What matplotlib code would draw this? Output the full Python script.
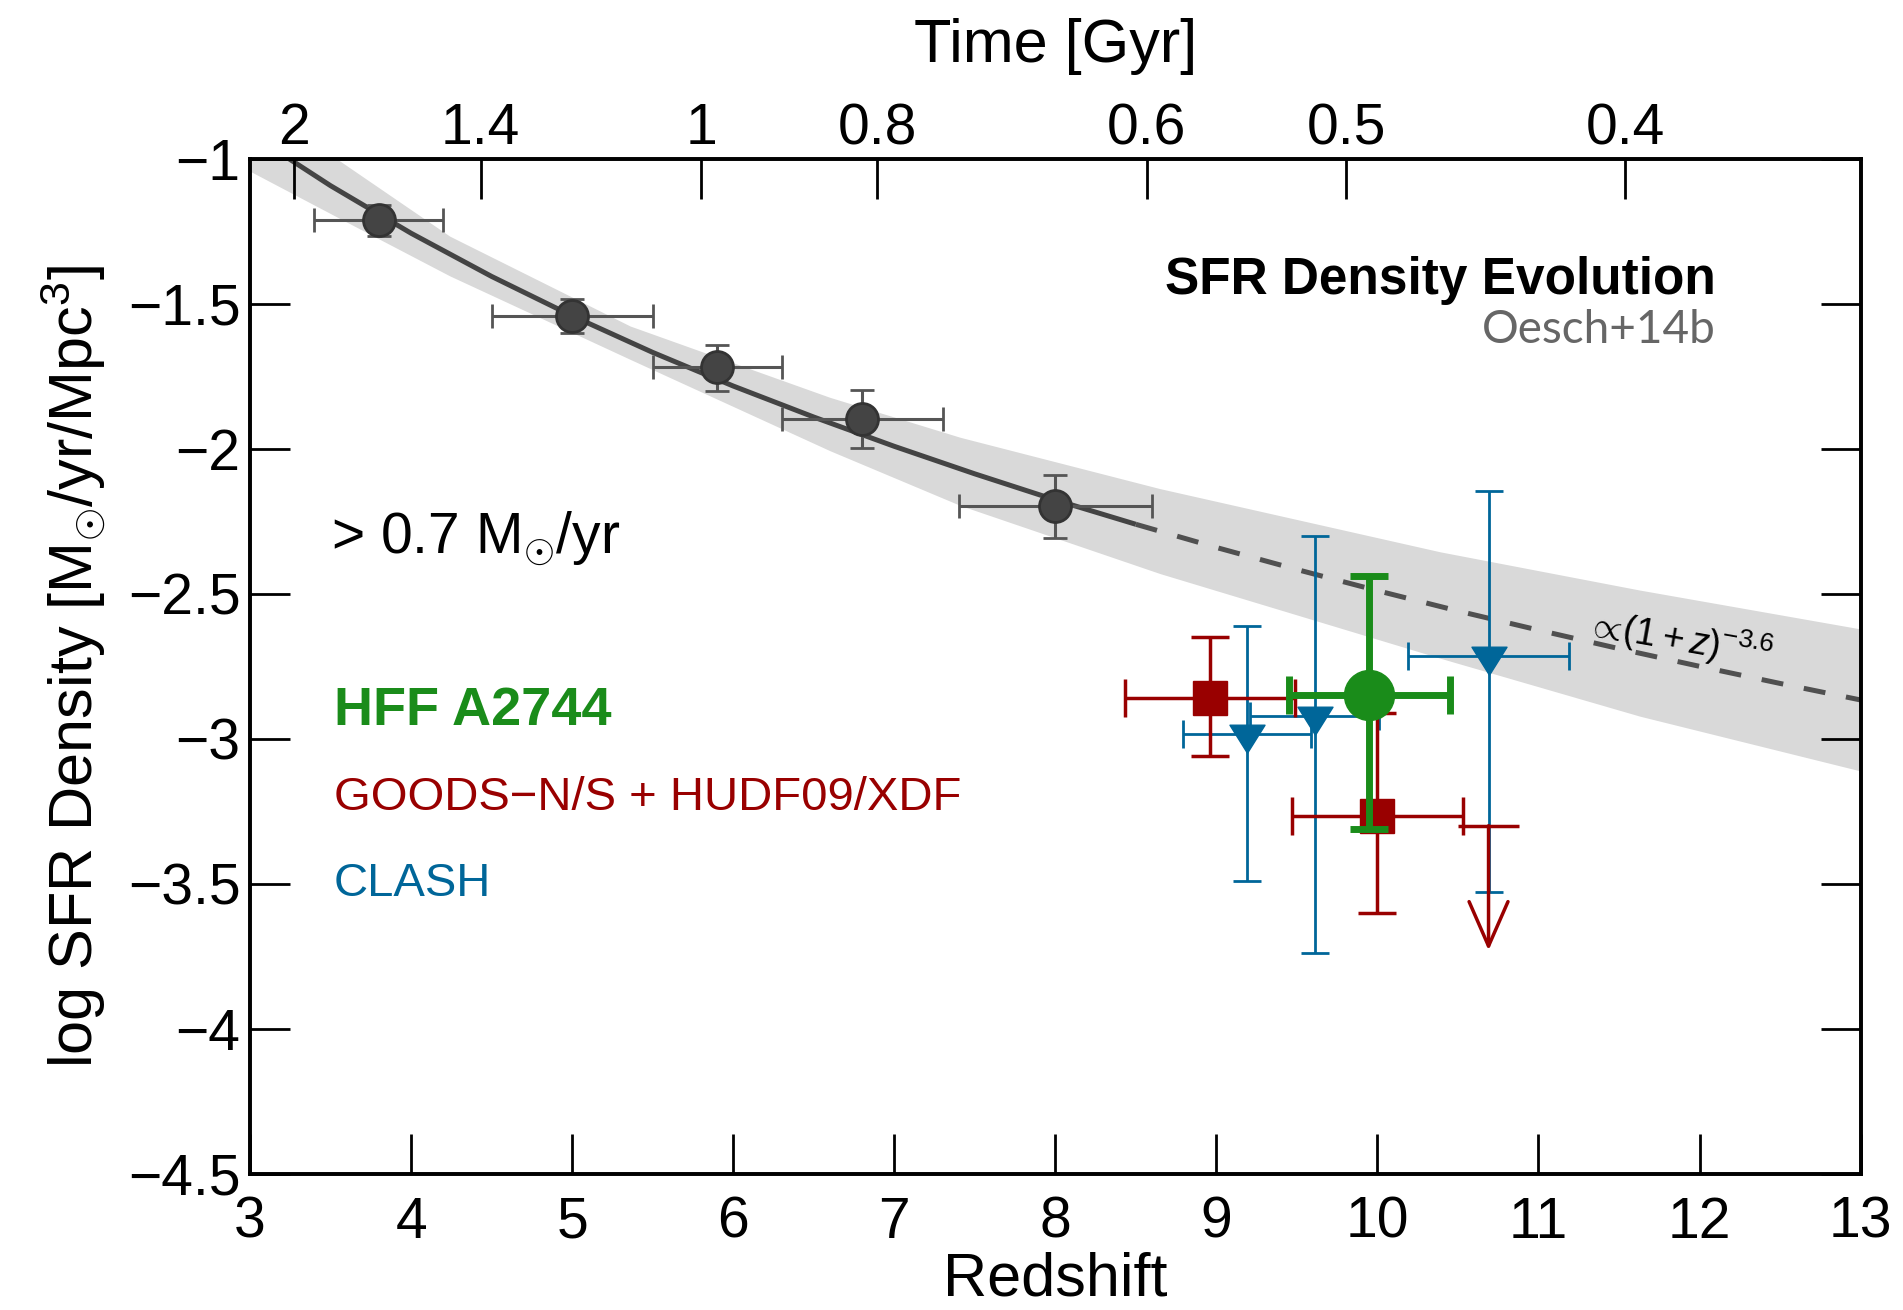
import numpy as np
import matplotlib
matplotlib.use('Agg')
import matplotlib.pyplot as plt
from matplotlib.path import Path

# ---------- fonts ----------
plt.rcParams['font.family'] = ['Liberation Sans', 'DejaVu Sans']
plt.rcParams['mathtext.fontset'] = 'custom'
plt.rcParams['mathtext.rm'] = 'Liberation Sans'
plt.rcParams['mathtext.it'] = 'Liberation Sans:italic'
plt.rcParams['mathtext.bf'] = 'Liberation Sans:bold'

# ---------- data ----------
# Oesch+14b lower-z measurements
z_low = [3.80, 5.00, 5.90, 6.80, 8.00]
sfrd_low = [-1.212, -1.542, -1.716, -1.897, -2.197]
sfrd_low_up = [0.055, 0.058, 0.074, 0.100, 0.108]
sfrd_low_dn = [0.055, 0.058, 0.084, 0.100, 0.109]
z_low_err = [0.40, 0.50, 0.40, 0.50, 0.60]

# fit curve (1+z)^-3.6 : solid where constrained, dashed extrapolation
z_fit_solid = [3.2, 3.5, 4.0, 4.5, 5.0, 5.5, 6.0, 6.5, 7.0, 7.5, 8.0, 8.5]
sfrd_fit_solid = [-0.984, -1.092, -1.256, -1.405, -1.541, -1.667, -1.783,
                  -1.890, -1.991, -2.086, -2.176, -2.260]
z_fit_dash = [8.5, 9.0, 9.5, 10.0, 10.5, 11.0, 11.5, 12.0, 12.5, 13.0]
sfrd_fit_dash = [-2.260, -2.340, -2.416, -2.489, -2.559, -2.625, -2.689,
                 -2.750, -2.809, -2.866]

# uncertainty band
z_band = [3.0, 3.54, 4.24, 5.36, 6.60, 7.41, 8.65, 10.39, 11.63, 13.0]
band_lo = [-1.042, -1.20, -1.403, -1.691, -2.006, -2.195, -2.430, -2.722, -2.922, -3.111]
band_hi = [-0.80, -1.00, -1.266, -1.576, -1.822, -1.960, -2.137, -2.355, -2.487, -2.621]

# HFF A2744
z_hff = [9.95]
sfrd_hff = [-2.85]
hff_up, hff_dn = [0.41], [0.46]
hff_zerr = [0.50]

# GOODS-N/S + HUDF09/XDF
z_goods = [8.96, 10.00]
sfrd_goods = [-2.86, -3.265]
goods_up = [0.21, 0.355]
goods_dn = [0.20, 0.335]
goods_zerr = [0.53, 0.53]
z_goods_lim = 10.69
sfrd_goods_lim = -3.30
goods_lim_tip = -3.73
goods_lim_zerr = 0.19

# CLASH
z_clash = [9.19, 9.61, 10.69]
sfrd_clash = [-2.985, -2.92, -2.716]
clash_up = [0.375, 0.62, 0.57]
clash_dn = [0.505, 0.82, 0.814]
clash_zerr = [0.40, 0.40, 0.50]

y_ticks = [-1, -1.5, -2, -2.5, -3, -3.5, -4, -4.5]
x_ticks = [3, 4, 5, 6, 7, 8, 9, 10, 11, 12, 13]
time_ticks = [2, 1.4, 1, 0.8, 0.6, 0.5, 0.4]

# colours
c_black = '#444444'
c_green = '#1a8c1a'
c_red = '#990000'
c_blue = '#006699'


def z_of_age(t, h0=67.0, om=0.3):
    """Redshift at cosmic age t [Gyr] in flat LCDM"""
    ol = 1.0 - om
    th = 977.8 / h0
    x = np.sqrt(om / ol) * np.sinh(1.5 * np.sqrt(ol) * np.asarray(t) / th)
    return x ** (-2.0 / 3.0) - 1.0


fig = plt.figure(figsize=(19.03, 13.10), dpi=100)
ax = fig.add_axes([0.1314, 0.1041, 0.8463, 0.7745])

ax.fill_between(z_band, band_lo, band_hi, color='#d9d9d9', lw=0, zorder=1)
ax.plot(z_fit_solid, sfrd_fit_solid, color='#444444', lw=3.6, zorder=2,
        solid_capstyle='butt')
ax.plot(z_fit_dash, sfrd_fit_dash, color='#505050', lw=3.6, zorder=2,
        dashes=(4.4, 4.2))

ax.errorbar(z_low, sfrd_low, yerr=[sfrd_low_dn, sfrd_low_up], xerr=z_low_err,
            fmt='o', ms=23, mfc=c_black, mec='#333333', mew=2,
            ecolor='#555555', elinewidth=2.2, capsize=8.5, capthick=2.2, zorder=3)

tri = Path([(-1, 0.53), (1, 0.53), (0, -1.07), (-1, 0.53)],
           [Path.MOVETO, Path.LINETO, Path.LINETO, Path.CLOSEPOLY])
ax.errorbar(z_clash, sfrd_clash, yerr=[clash_dn, clash_up], xerr=clash_zerr,
            fmt='none', ecolor=c_blue, elinewidth=2, capsize=10, capthick=2, zorder=4)
ax.plot(z_clash, sfrd_clash, ls='none', marker=tri, ms=27, color=c_blue,
        mec=c_blue, zorder=4)

ax.errorbar(z_goods, sfrd_goods, yerr=[goods_dn, goods_up], xerr=goods_zerr,
            fmt='s', ms=25, mfc=c_red, mec=c_red, ecolor=c_red,
            elinewidth=2.5, capsize=14, capthick=2.5, zorder=5)
ax.errorbar([z_goods_lim], [sfrd_goods_lim], xerr=[goods_lim_zerr], fmt='none',
            ecolor=c_red, elinewidth=2.5, capsize=0, zorder=5)
ax.annotate('', xy=(z_goods_lim, goods_lim_tip), xytext=(z_goods_lim, sfrd_goods_lim),
            arrowprops=dict(arrowstyle='->,head_length=1.6,head_width=0.7',
                            color=c_red, lw=2.5, shrinkA=0, shrinkB=0,
                            mutation_scale=20), zorder=5)

ax.errorbar(z_hff, sfrd_hff, yerr=[hff_dn, hff_up], xerr=hff_zerr,
            fmt='o', ms=36, mfc=c_green, mec=c_green, ecolor=c_green,
            elinewidth=5, capsize=14, capthick=5, zorder=6)

# axes
ax.set_xlim(3, 13)
ax.set_ylim(-4.5, -1)
ax.set_xticks(x_ticks)
ax.set_xticklabels([str(v) for v in x_ticks])
ax.set_yticks(y_ticks)
ax.set_yticklabels([('%g' % v).replace('-', '\u2212') for v in y_ticks])
ax.tick_params(axis='both', direction='in', length=29, width=2, labelsize=41)
ax.tick_params(axis='y', right=True, pad=7)
ax.tick_params(axis='x', top=False, pad=16)
for sp in ax.spines.values():
    sp.set_linewidth(2.6)
ax.set_xlabel('Redshift', fontsize=44, labelpad=1)
ax.set_ylabel(r'log SFR Density [$\mathrm{M}_{\odot}$/yr/Mpc$^3$]', fontsize=44,
              labelpad=14)

ax2 = ax.twiny()
ax2.set_xlim(3, 13)
ax2.set_xticks(z_of_age(time_ticks))
ax2.set_xticklabels(['%g' % t for t in time_ticks])
ax2.tick_params(axis='x', direction='in', length=29, width=2, labelsize=41, pad=2)
ax2.set_xlabel('Time [Gyr]', fontsize=44, labelpad=29)
for sp in ax2.spines.values():
    sp.set_linewidth(2.6)

# annotations
ax.text(12.1, -1.42, 'SFR Density Evolution', fontsize=37, fontweight='bold',
        ha='right', va='center')
ax.text(12.1, -1.59, 'Oesch+14b', fontsize=33, color='#666666', family='Lato',
        ha='right', va='center')
ax.text(3.50, -2.36, r'> 0.7 $\mathrm{M}_{\odot}$/yr', fontsize=41,
        ha='left', va='baseline')
ax.text(3.52, -2.905, 'HFF A2744', fontsize=39, fontweight='bold', color=c_green,
        ha='left', va='center')
ax.text(3.52, -3.205, 'GOODS\u2212N/S + HUDF09/XDF', fontsize=34, color=c_red,
        ha='left', va='center')
ax.text(3.52, -3.50, 'CLASH', fontsize=34, color=c_blue, ha='left', va='center')
ax.text(11.30, -2.60, r'${\propto}\!(1+z)^{-3.6}$', fontsize=27, rotation=-10,
        ha='left', va='center', rotation_mode='anchor')

fig.savefig('out.png', dpi=100)
